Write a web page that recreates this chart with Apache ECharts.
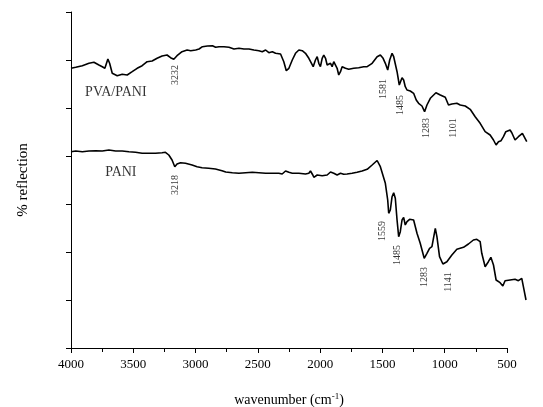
<!DOCTYPE html>
<html>
<head>
<meta charset="utf-8">
<script src="https://cdn.jsdelivr.net/npm/echarts@6/dist/echarts.min.js"></script>
<style>
  html, body { margin: 0; padding: 0; background: #fff; }
  #chart { width: 543px; height: 407px; }
</style>
</head>
<body>
<div id="chart"></div>
<script type="text/javascript">
// PVA/PANI spectrum (wavenumber, reflection in arbitrary units)
var pvaX = [4000,3962,3909,3856,3816,3776,3749,3728,3704,3690,3669,3629,3589,3549,3509,3469,3429,3389,3349,3309,3269,3229,3201,3175,3149,3109,3068,3039,2999,2972,2945,2905,2865,2839,2812,2772,2732,2692,2652,2612,2572,2532,2492,2465,2438,2412,2384,2358,2318,2292,2272,2251,2224,2198,2171,2144,2118,2091,2078,2056,2038,2024,2011,1998,1984,1971,1957,1944,1917,1904,1891,1877,1864,1851,1837,1824,1811,1797,1771,1731,1691,1651,1623,1611,1583,1543,1517,1495,1477,1458,1442,1423,1410,1383,1365,1357,1343,1330,1317,1303,1277,1250,1229,1210,1183,1162,1143,1116,1071,1036,996,970,943,903,876,836,796,756,716,676,636,609,588,569,548,529,510,476,462,436,409,377,361,342];
var pvaY = [279.7,280.7,282.3,284.7,285.7,283,281.3,279.7,289,284.7,274.7,272.3,273.7,273,276.3,279.7,282.3,286.3,287,289.7,292,293,290.3,288.7,292.3,296.3,298,297.3,298,299,301.3,302,302.3,300.7,301.3,301.3,300.7,299,299.7,299,299,298,297.3,296.3,298,295.3,296.3,294.7,294,286.3,277.3,279.7,288,294.7,298,297.3,294.7,289.7,291.3,281.3,288,291.3,284.7,281.3,289.7,293,289.7,283,284.7,281.3,286.3,288,279.7,273,276.3,281.3,283,279.7,278.7,279.7,280.3,281.3,281.3,279.7,284.7,291.3,293,289.7,284.7,278,288,294.7,291.3,276.3,263,264.7,270.3,268,261.3,258,257,254.7,248,244.7,242,236.3,243,249.7,255.3,253,250.7,243,244,244.7,243,242,238.7,231.3,224.7,216.3,213,208,203,206.3,207.3,211.3,216.3,218,215.3,208,211.3,214.7,214,206.3];

// PANI spectrum
var paniX = [4000,3962,3909,3856,3802,3749,3696,3642,3589,3535,3482,3429,3375,3322,3269,3242,3215,3189,3167,3149,3121,3081,3028,2988,2948,2895,2841,2788,2758,2705,2652,2598,2545,2492,2438,2384,2332,2305,2278,2251,2224,2171,2118,2091,2078,2059,2051,2024,1984,1944,1917,1891,1864,1837,1811,1784,1744,1704,1664,1623,1583,1543,1517,1477,1458,1450,1437,1423,1410,1397,1383,1370,1357,1343,1330,1317,1303,1282,1250,1223,1197,1165,1143,1122,1103,1076,1063,1042,1015,983,943,903,850,810,770,743,716,703,676,650,630,609,588,556,534,516,476,436,409,382,369,348];
var paniY = [196.3,197,196.3,197,197.3,197,198,197,197,196.3,195.7,194.7,194.7,194.7,195.3,195.7,193,188,181.3,184,185.3,184.7,183,181.3,180.3,179.7,179,177.3,176,175.3,174.7,175.3,175.7,175.3,174.7,174.7,174.7,174,177,175.7,174.7,174.7,174,174.7,177,173,170.7,173,172.3,173,176,174.7,173,174.7,173.7,174,174.7,175.7,177,178.7,183,187.5,181.3,164.7,148,134.7,138,151.3,155.3,149.7,128,111.3,116.3,128,130.7,123,126.3,128.7,128,114.7,104.7,89.7,94.7,99.7,101.3,119.7,111.3,91.3,84,86.3,93,98.7,100.7,104,108,108.7,106.3,94.7,81.3,86.3,90.7,83,68,65.3,62,67.3,68,68.7,67.3,69.7,61.3,48];

// band labels
var pvaPeaks = ['3232','1581','1485','1283','1101'];
var pvaPeakX = [3159,1493,1357,1148,932];
var pvaPeakY = [273,259,243,220,220];
var paniPeaks = ['3218','1559','1485','1283','1141'];
var paniPeakX = [3159,1501,1381,1164,972];
var paniPeakY = [163,117,93,71,66];

// curve names
var curveNames = ['PVA/PANI','PANI'];
var curveNameX = [3640,3600];
var curveNameY = [256,176];

function zip(xs, ys){
  var out = [];
  for (var i = 0; i < xs.length; i++){
    out.push([xs[i], ys[i]]);
  }
  return out;
}
function labelData(names, xs, ys){
  var out = [];
  for (var i = 0; i < names.length; i++){
    out.push({name: names[i], value: [xs[i], ys[i]]});
  }
  return out;
}

var font = '"Liberation Serif", "Times New Roman", serif';
var mychart = echarts.init(document.getElementById('chart'));
// grid 0 carries the visible axes (4000-500), grid 1 the spectra,
// same scale but running on to ~340 cm-1 like the original plot
var option = {
  animation: false,
  backgroundColor: '#fff',
  grid: [
    { left: 71, right: 36, top: 12, bottom: 59, outerBoundsMode: 'none' },
    { left: 71, right: 16, top: 12, bottom: 59, outerBoundsMode: 'none' }
  ],
  xAxis: [
    {
      gridIndex: 0,
      type: 'value',
      inverse: true,
      min: 500,
      max: 4000,
      interval: 500,
      name: 'wavenumber (cm{sup|-1})',
      nameLocation: 'middle',
      nameGap: 44,
      nameTextStyle: {
        fontFamily: font, fontSize: 14, color: '#000',
        rich: { sup: { fontFamily: font, fontSize: 9, color: '#000', verticalAlign: 'top', padding: [0, 0, 8, 0] } }
      },
      axisLine: { lineStyle: { color: '#000', width: 1 } },
      axisTick: { inside: false, length: 5, lineStyle: { color: '#000' } },
      minorTick: { show: true, splitNumber: 2, length: 4, lineStyle: { color: '#000' } },
      axisLabel: {
        fontFamily: font, fontSize: 13, color: '#000', margin: 10,
        formatter: function(v){ return String(v); }
      },
      splitLine: { show: false }
    },
    {
      gridIndex: 1,
      type: 'value',
      inverse: true,
      min: 340,
      max: 4000,
      show: false
    }
  ],
  yAxis: [
    {
      gridIndex: 0,
      type: 'value',
      min: 0,
      max: 336,
      interval: 48,
      name: '% reflection',
      nameLocation: 'middle',
      nameGap: 40,
      nameRotate: 90,
      nameTextStyle: { fontFamily: font, fontSize: 15, color: '#000' },
      axisLine: { show: true, lineStyle: { color: '#000', width: 1 } },
      axisTick: { show: true, inside: false, length: 5, lineStyle: { color: '#000' } },
      axisLabel: { show: false },
      splitLine: { show: false }
    },
    {
      gridIndex: 1,
      type: 'value',
      min: 0,
      max: 336,
      show: false
    }
  ],
  series: [
    {
      name: 'PVA/PANI',
      type: 'line',
      xAxisIndex: 1,
      yAxisIndex: 1,
      data: zip(pvaX, pvaY),
      showSymbol: false,
      lineStyle: { color: '#000', width: 1.6 }
    },
    {
      name: 'PANI',
      type: 'line',
      xAxisIndex: 1,
      yAxisIndex: 1,
      data: zip(paniX, paniY),
      showSymbol: false,
      lineStyle: { color: '#000', width: 1.6 }
    },
    {
      type: 'scatter',
      xAxisIndex: 1,
      yAxisIndex: 1,
      symbolSize: 0,
      silent: true,
      data: labelData(pvaPeaks.concat(paniPeaks), pvaPeakX.concat(paniPeakX), pvaPeakY.concat(paniPeakY)),
      label: {
        show: true,
        position: 'inside',
        rotate: 90,
        formatter: '{b}',
        fontFamily: font,
        fontSize: 10,
        color: '#000'
      }
    },
    {
      type: 'scatter',
      xAxisIndex: 1,
      yAxisIndex: 1,
      symbolSize: 0,
      silent: true,
      data: labelData(curveNames, curveNameX, curveNameY),
      label: {
        show: true,
        position: 'inside',
        formatter: '{b}',
        fontFamily: font,
        fontSize: 14,
        color: '#000'
      }
    }
  ]
};
mychart.setOption(option);
</script>
</body>
</html>
